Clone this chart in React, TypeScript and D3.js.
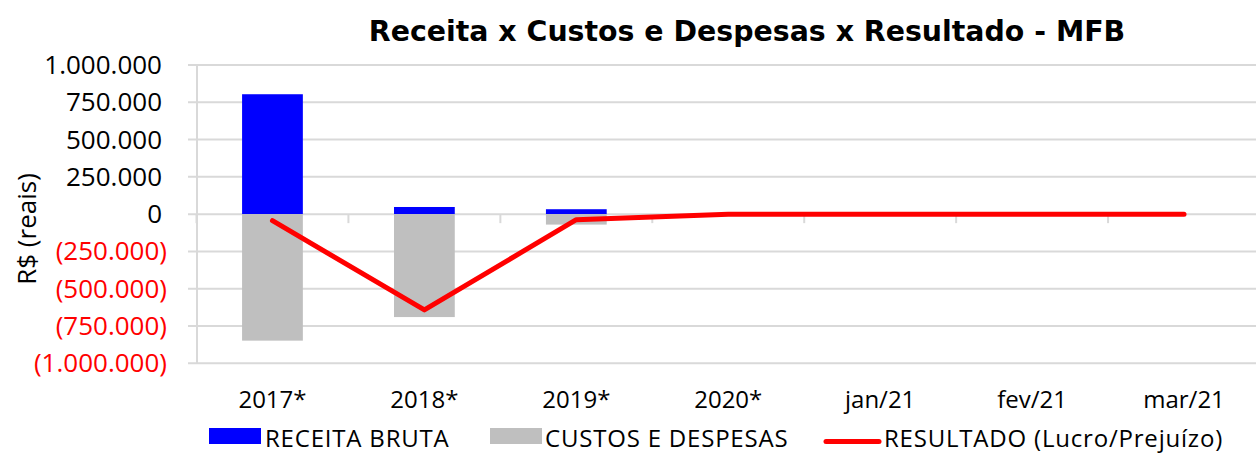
import React from "react";
import * as d3 from "d3";

const categories = ["2017*", "2018*", "2019*", "2020*", "jan/21", "fev/21", "mar/21"];
const receitaBruta = [804000, 48000, 33000, 0, 0, 0, 0];
const custosDespesas = [-848000, -690000, -70000, 0, 0, 0, 0];
const resultado = [-44000, -642000, -37000, 0, 0, 0, 0];
const yTicks = [1000000, 750000, 500000, 250000, 0, -250000, -500000, -750000, -1000000];

const W = 1256;
const H = 453;
const FONT = "'Open Sans', 'DejaVu Sans', sans-serif";
const TITLE_FONT = "'DejaVu Sans', sans-serif";

const fmt = (v: number) => {
  const s = d3.format(",")(Math.abs(v)).replace(/,/g, ".");
  return v < 0 ? `(${s})` : s;
};

export default function App() {
  const x = d3.scaleBand<string>().domain(categories).range([196.5, 1260]).paddingInner(0.6).paddingOuter(0.3);
  const xp = d3.scalePoint<string>().domain(categories).range([196.5, 1260]).padding(0.5);
  const y = d3.scaleLinear().domain([-1000000, 1000000]).range([363.3, 65]);
  const step = x.step();
  const y0 = y(0);
  const line = d3
    .line<number>()
    .x((_, i) => xp(categories[i]) as number)
    .y((d) => y(d));

  const boundaries = d3.range(categories.length + 1).map((i) => 196.5 + i * step);

  return (
    <svg width={W} height={H} style={{ position: "absolute", left: 0, top: 0, background: "#fff" }}>
      <text x={747} y={41} textAnchor="middle" fontFamily={TITLE_FONT} fontWeight="bold" fontSize={28.4} fill="#000">
        Receita x Custos e Despesas x Resultado - MFB
      </text>

      {/* gridlines */}
      {yTicks.map((t) => (
        <line key={t} x1={188} x2={1260} y1={y(t)} y2={y(t)} stroke="#d9d9d9" strokeWidth={2} />
      ))}
      <line x1={197} x2={197} y1={y(1000000)} y2={y(-1000000)} stroke="#d9d9d9" strokeWidth={2} />
      {boundaries.map((b, i) => (
        <line key={i} x1={b} x2={b} y1={y0} y2={y0 + 9} stroke="#d9d9d9" strokeWidth={2} />
      ))}

      {/* y labels */}
      {yTicks.map((t) => (
        <text
          key={t}
          x={t < 0 ? 167 : 162}
          y={y(t) + 9}
          textAnchor="end"
          fontFamily={FONT}
          fontSize={26}
          fill={t < 0 ? "#ff0000" : "#000"}
        >
          {fmt(t)}
        </text>
      ))}
      <text
        transform={`translate(36,229) rotate(-90)`}
        textAnchor="middle"
        fontFamily={FONT}
        fontSize={26}
        fill="#000"
      >
        R$ (reais)
      </text>

      {/* bars */}
      {categories.map((c, i) => (
        <g key={c}>
          <rect
            x={x(c)}
            width={x.bandwidth()}
            y={y(Math.max(0, receitaBruta[i]))}
            height={Math.abs(y(receitaBruta[i]) - y0)}
            fill="#0000ff"
          />
          <rect
            x={x(c)}
            width={x.bandwidth()}
            y={y0}
            height={Math.abs(y(custosDespesas[i]) - y0)}
            fill="#bfbfbf"
          />
        </g>
      ))}

      <path d={line(resultado) || ""} fill="none" stroke="#ff0000" strokeWidth={5} strokeLinecap="round" strokeLinejoin="round" />

      {/* x labels */}
      {categories.map((c) => (
        <text key={c} x={xp(c)} y={408} textAnchor="middle" fontFamily={FONT} fontSize={24} fill="#000">
          {c}
        </text>
      ))}

      {/* legend */}
      <rect x={209} y={428} width={52} height={16} fill="#0000ff" />
      <text x={265} y={447} fontFamily={FONT} fontSize={24} letterSpacing={0.8} fill="#000">RECEITA BRUTA</text>
      <rect x={490} y={428} width={52} height={16} fill="#bfbfbf" />
      <text x={545} y={447} fontFamily={FONT} fontSize={24} letterSpacing={0.8} fill="#000">CUSTOS E DESPESAS</text>
      <line x1={826} x2={879} y1={441.5} y2={441.5} stroke="#ff0000" strokeWidth={5} strokeLinecap="round" />
      <text x={884} y={447} fontFamily={FONT} fontSize={24} letterSpacing={0.8} fill="#000">RESULTADO (Lucro/Prejuízo)</text>
    </svg>
  );
}
